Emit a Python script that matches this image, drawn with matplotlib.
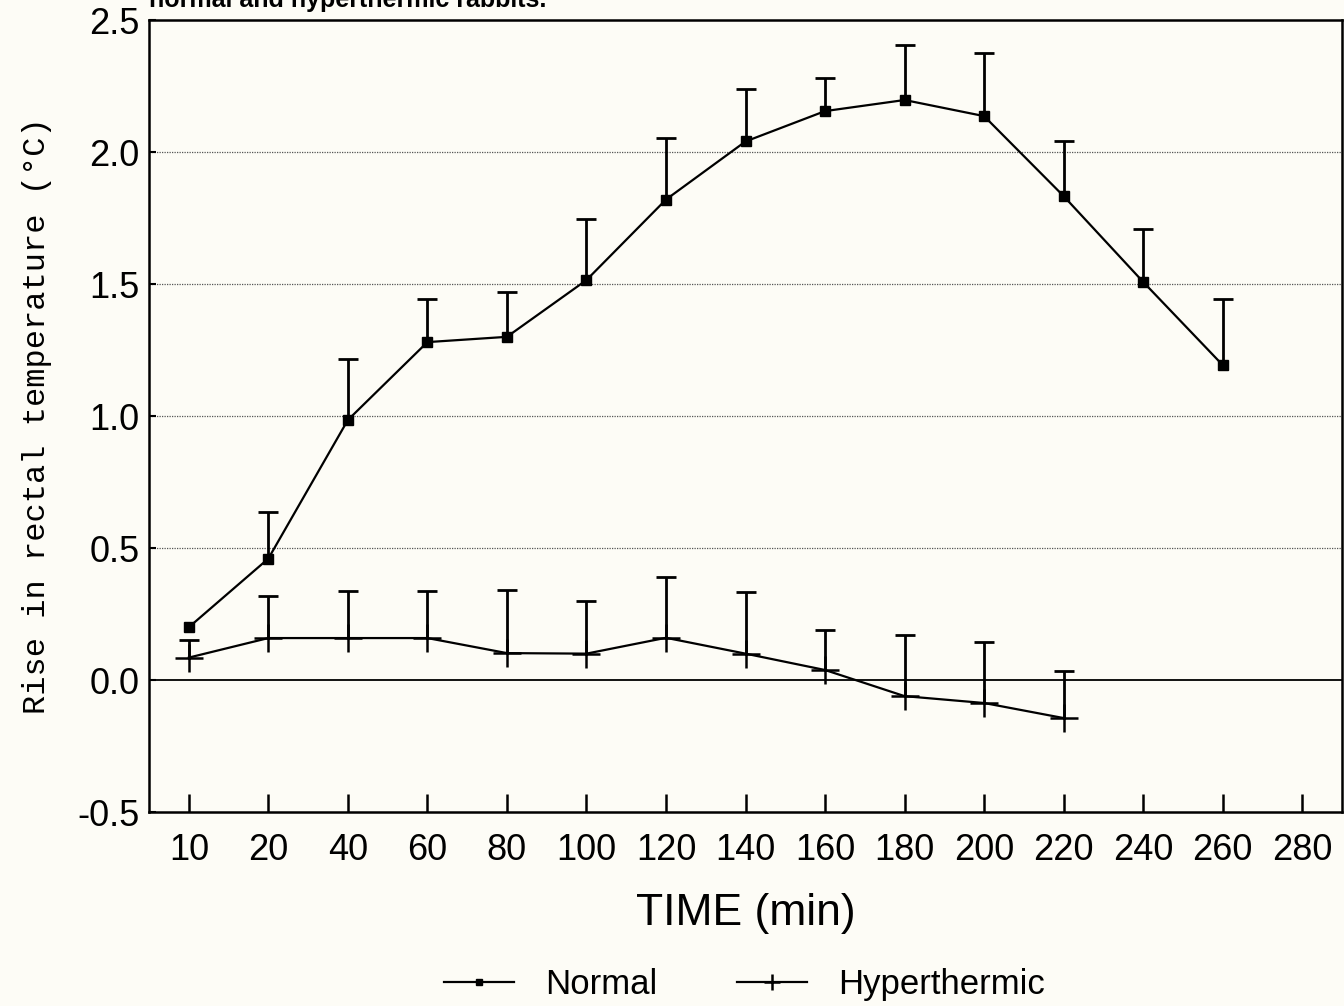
import numpy as np
import matplotlib.pyplot as plt

plt.rcParams.update({
    "font.family": "Liberation Sans",
    "font.size": 20,
    "axes.linewidth": 1.8,
})

times = ["10", "20", "40", "60", "80", "100", "120", "140", "160",
         "180", "200", "220", "240", "260", "280"]

normal = [0.20, 0.46, 0.985, 1.28, 1.30, 1.515, 1.82, 2.04, 2.155,
          2.197, 2.136, 1.833, 1.508, 1.193]
normal_err = [0.0, 0.175, 0.23, 0.165, 0.17, 0.23, 0.235, 0.20, 0.125,
              0.21, 0.24, 0.21, 0.20, 0.25]

hyper = [0.085, 0.159, 0.159, 0.159, 0.102, 0.10, 0.16, 0.10, 0.038,
         -0.061, -0.087, -0.144]
hyper_err = [0.065, 0.16, 0.18, 0.18, 0.24, 0.20, 0.23, 0.235, 0.15,
             0.23, 0.23, 0.18]

bg = "#fdfcf6"
fig = plt.figure(figsize=(13.44, 10.06), dpi=100, facecolor=bg)
ax = fig.add_axes([0.1109, 0.1928, 0.8876, 0.7873], facecolor=bg)

# grid + zero line
for g in [0.5, 1.0, 1.5, 2.0]:
    ax.axhline(g, color="#555555", lw=0.9, ls=(0, (1, 1)), zorder=1)
ax.axhline(0, color="black", lw=1.3, zorder=1)


def upper_bars(x, y, err):
    x = np.asarray(x)
    y = np.asarray(y)
    err = np.asarray(err)
    m = err > 0
    ax.vlines(x[m], y[m], y[m] + err[m], color="black", lw=2.0, zorder=2)
    ax.plot(x[m], y[m] + err[m], ls="none", marker="_", ms=14, mew=2.0,
            color="black", zorder=2)


xn = np.arange(len(normal))
xh = np.arange(len(hyper))

upper_bars(xn, normal, normal_err)
ln1, = ax.plot(xn, normal, color="black", lw=1.6, marker="s", ms=6.5,
               mfc="black", mec="black", zorder=3, label="Normal")

upper_bars(xh, hyper, hyper_err)
ln2, = ax.plot(xh, hyper, color="black", lw=1.6, marker="+", ms=20,
               mew=1.8, zorder=3, label="Hyperthermic")

ax.set_xlim(-0.5, 14.5)
ax.set_ylim(-0.5, 2.5)
ax.set_xticks(np.arange(len(times)))
ax.set_xticklabels(times)
ax.set_yticks([-0.5, 0.0, 0.5, 1.0, 1.5, 2.0, 2.5])
ax.set_yticklabels(["-0.5", "0.0", "0.5", "1.0", "1.5", "2.0", "2.5"])
ax.tick_params(axis="x", direction="in", length=13, width=1.8, pad=15,
               labelsize=26)
ax.tick_params(axis="y", direction="in", length=5, width=1.5, pad=7,
               labelsize=26)

ax.set_xlabel("TIME (min)", fontsize=32, labelpad=18)
ax.set_ylabel("Rise in rectal temperature (°C)", family="Liberation Mono",
              fontsize=23, labelpad=18)

fig.text(0.111, 0.9885, "normal and hyperthermic rabbits.", fontsize=18,
         fontweight="bold", va="bottom", ha="left")

fig.legend(handles=[ln1, ln2], loc="center", bbox_to_anchor=(0.554, 0.021),
           ncol=2, frameon=False, fontsize=25, handlelength=2.0,
           handletextpad=0.9, columnspacing=2.3, markerscale=0.6)

fig.savefig("out.png", dpi=100, facecolor=bg)
